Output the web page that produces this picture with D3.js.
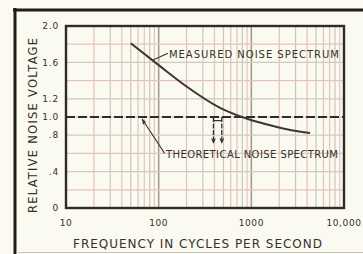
<!DOCTYPE html>
<html>
<head>
<meta charset="utf-8">
<script src="https://cdn.jsdelivr.net/npm/d3@7"></script>
<style>
    body { margin: 0; background: #fbfaf0; }
    svg { display: block; }
    text { font-family: "DejaVu Sans", sans-serif; fill: #35302b; }
</style>
</head>
<body>
<svg id="chart" width="363" height="254"></svg>
<script>
// measured noise spectrum
var measuredFreq = [50, 100, 200, 460, 900, 1800, 2700, 4300];
var measuredVolt = [1.81, 1.57, 1.335, 1.10, 0.98, 0.895, 0.855, 0.825];

// theoretical noise spectrum: flat at 1.0
var theoreticalFreq = [10, 10000];
var theoreticalVolt = [1.0, 1.0];

var xTicks = [10, 100, 1000, 10000];
var xTickLabels = ["10", "100", "1000", "10,000"];
var yTicks = [0, 0.4, 0.8, 1.0, 1.2, 1.6, 2.0];
var yTickLabels = ["0", ".4", ".8", "1.0", "1.2", "1.6", "2.0"];
var yGrid = [0.2, 0.4, 0.6, 0.8, 1.0, 1.2, 1.4, 1.6, 1.8];

var svg = d3.select("#chart");
var margin = {top: 26, right: 19, bottom: 46, left: 66};
var width = +svg.attr("width") - margin.left - margin.right;
var height = +svg.attr("height") - margin.top - margin.bottom;

// outer frame of the figure
svg.append("line").attr("x1", 15).attr("x2", 15).attr("y1", 8).attr("y2", 254)
    .attr("stroke", "#1e1b18").attr("stroke-width", 3);
svg.append("line").attr("x1", 13).attr("x2", 363).attr("y1", 10).attr("y2", 10)
    .attr("stroke", "#1e1b18").attr("stroke-width", 3);
svg.append("line").attr("x1", 16).attr("x2", 363).attr("y1", 252.5).attr("y2", 252.5)
    .attr("stroke", "#c9c6bc").attr("stroke-width", 1);

var g = svg.append("g").attr("transform", "translate(" + margin.left + "," + margin.top + ")");

var x = d3.scaleLog().domain([10, 10000]).range([0, width]);
var y = d3.scaleLinear().domain([0, 2]).range([height, 0]);

// log grid
var xGrid = [];
[10, 100, 1000].forEach(function (dec) {
    for (var i = 2; i <= 10; i++) {
        xGrid.push(dec * i);
    }
});

function mantissa(d) {
    return Math.round(d / Math.pow(10, Math.floor(Math.log10(d) + 1e-9)));
}

g.selectAll(".vgrid")
    .data(xGrid)
    .enter().append("line")
    .attr("class", "vgrid")
    .attr("x1", function (d) { return x(d); })
    .attr("x2", function (d) { return x(d); })
    .attr("y1", 0)
    .attr("y2", height)
    .attr("stroke", function (d) {
        var m = mantissa(d);
        if (m === 1) return "#a39e94";
        return (m === 5 || m === 3 || m === 8) ? "#cbc6ba" : "#e3c3bd";
    })
    .attr("stroke-width", function (d) {
        return mantissa(d) === 1 ? 1.6 : 1.2;
    });

g.selectAll(".hgrid")
    .data(yGrid)
    .enter().append("line")
    .attr("class", "hgrid")
    .attr("x1", 0)
    .attr("x2", width)
    .attr("y1", function (d) { return y(d); })
    .attr("y2", function (d) { return y(d); })
    .attr("stroke", function (d, i) { return i % 2 ? "#d0cabf" : "#e3c3bd"; })
    .attr("stroke-width", 1.2);

// plot border
g.append("rect")
    .attr("width", width)
    .attr("height", height)
    .attr("fill", "none")
    .attr("stroke", "#2f2b27")
    .attr("stroke-width", 2.4);

// theoretical (dashed) line
var theoretical = theoreticalFreq.map(function (f, i) { return [f, theoreticalVolt[i]]; });
var line = d3.line()
    .x(function (d) { return x(d[0]); })
    .y(function (d) { return y(d[1]); });

g.append("path")
    .datum(theoretical)
    .attr("d", line)
    .attr("fill", "none")
    .attr("stroke", "#2f2b27")
    .attr("stroke-width", 2)
    .attr("stroke-dasharray", "9,3");

// measured curve
var measured = measuredFreq.map(function (f, i) { return [f, measuredVolt[i]]; });
var curve = d3.line()
    .x(function (d) { return x(d[0]); })
    .y(function (d) { return y(d[1]); })
    .curve(d3.curveMonotoneX);

g.append("path")
    .datum(measured)
    .attr("d", curve)
    .attr("fill", "none")
    .attr("stroke", "#3e3630")
    .attr("stroke-width", 2);

// small dimension marker under the dashed line
var markFreq = [390, 480];
g.selectAll(".mark")
    .data(markFreq)
    .enter().append("line")
    .attr("x1", function (d) { return x(d); })
    .attr("x2", function (d) { return x(d); })
    .attr("y1", y(1.0))
    .attr("y2", y(0.72))
    .attr("stroke", "#2f2b27")
    .attr("stroke-width", 1.3)
    .attr("stroke-dasharray", "5,1.5");
g.append("line")
    .attr("x1", x(markFreq[0])).attr("x2", x(markFreq[1]))
    .attr("y1", y(0.96)).attr("y2", y(0.96))
    .attr("stroke", "#2f2b27").attr("stroke-width", 1.2);
g.selectAll(".markhead")
    .data(markFreq)
    .enter().append("path")
    .attr("d", function (d) {
        var px = x(d), py = y(0.72);
        return "M" + (px - 1.8) + "," + (py - 4) + "L" + px + "," + py + "L" + (px + 1.8) + "," + (py - 4);
    })
    .attr("fill", "none")
    .attr("stroke", "#2f2b27")
    .attr("stroke-width", 1.1);

// annotation leaders
g.append("line")
    .attr("x1", x(87)).attr("y1", y(1.626))
    .attr("x2", x(126)).attr("y2", y(1.70))
    .attr("stroke", "#3e3630").attr("stroke-width", 1.1);
g.append("line")
    .attr("x1", x(66)).attr("y1", y(0.98))
    .attr("x2", x(116)).attr("y2", y(0.60))
    .attr("stroke", "#3e3630").attr("stroke-width", 1.1);
g.append("path")
    .attr("d", "M" + x(66) + "," + y(0.98) + "l1,6 l3,-3 z")
    .attr("fill", "#3e3630");

g.append("text")
    .attr("x", x(129))
    .attr("y", y(1.648))
    .attr("font-size", 10)
    .attr("textLength", 170)
    .attr("lengthAdjust", "spacing")
    .text("MEASURED NOISE SPECTRUM");

g.append("text")
    .attr("x", x(120))
    .attr("y", y(0.549))
    .attr("font-size", 10)
    .attr("textLength", 172)
    .attr("lengthAdjust", "spacing")
    .text("THEORETICAL NOISE SPECTRUM");

// tick labels
g.selectAll(".xlab")
    .data(xTicks)
    .enter().append("text")
    .attr("x", function (d) { return x(d); })
    .attr("y", height + 18)
    .attr("text-anchor", "middle")
    .attr("font-size", 9)
    .attr("letter-spacing", 0.6)
    .text(function (d, i) { return xTickLabels[i]; });

g.selectAll(".ylab")
    .data(yTicks)
    .enter().append("text")
    .attr("x", -7)
    .attr("y", function (d) { return y(d); })
    .attr("dy", "0.35em")
    .attr("text-anchor", "end")
    .attr("font-size", 9)
    .attr("letter-spacing", 0.8)
    .text(function (d, i) { return yTickLabels[i]; });

// axis titles
svg.append("text")
    .attr("x", 73)
    .attr("y", 247.5)
    .attr("font-size", 12)
    .attr("textLength", 249)
    .attr("lengthAdjust", "spacing")
    .text("FREQUENCY IN CYCLES PER SECOND");

svg.append("text")
    .attr("transform", "translate(37,213) rotate(-90)")
    .attr("font-size", 11.5)
    .attr("textLength", 175)
    .attr("lengthAdjust", "spacing")
    .text("RELATIVE NOISE VOLTAGE");
</script>
</body>
</html>
